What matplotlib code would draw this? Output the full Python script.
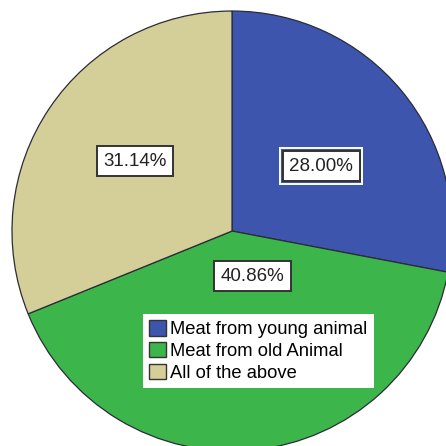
import matplotlib.pyplot as plt
from matplotlib.patches import Patch

plt.rcParams['font.family'] = ['Liberation Sans', 'DejaVu Sans']

categories = ['Meat from young animal', 'Meat from old Animal', 'All of the above']
shares = [28.00, 40.86, 31.14]
colors = ['#3e55ae', '#3cb54a', '#d4cf98']

# where each percentage box sits inside the pie (axis units)
label_pos = [(0.405, 0.295), (0.093, -0.205), (-0.441, 0.318)]

fig = plt.figure(figsize=(4.46, 4.46), dpi=100)
ax = fig.add_axes([0, 0, 1, 1])

wedges, texts, autotexts = ax.pie(
    shares, colors=colors, startangle=90, counterclock=False,
    autopct='%.2f%%', radius=1.0,
    wedgeprops=dict(edgecolor='#2b2b3a', linewidth=0.9),
    textprops=dict(fontsize=13.5, color='#222222'))

for t, (x, y) in zip(autotexts, label_pos):
    t.set_position((x, y))
    t.set_ha('center')
    t.set_va('center')
    t.set_bbox(dict(boxstyle='square,pad=0.35', facecolor='white',
                    edgecolor='#333333', linewidth=1.4))

# the blue slice label has an extra white outline round its box
outer = ax.text(label_pos[0][0], label_pos[0][1], autotexts[0].get_text(),
                fontsize=13.5, color='none', ha='center', va='center', zorder=2,
                bbox=dict(boxstyle='square,pad=0.5', facecolor='none',
                          edgecolor='white', linewidth=1.4))

ax.set_xlim(-1.0545, 0.9727)
ax.set_ylim(-0.977, 1.05)
ax.set_aspect('equal')
ax.axis('off')

handles = [Patch(facecolor=c, edgecolor='#333333', linewidth=1.0) for c in colors]
leg = ax.legend(handles, categories, loc='upper left',
                bbox_to_anchor=(0.3206, 0.296), fontsize=13.2,
                frameon=True, fancybox=False, framealpha=1,
                handlelength=0.9, handleheight=0.9, handletextpad=0.25,
                labelspacing=0.2, borderpad=0.35, borderaxespad=0)
leg.get_frame().set_edgecolor('white')
leg.get_frame().set_linewidth(0)

fig.savefig('out.png', dpi=100)
